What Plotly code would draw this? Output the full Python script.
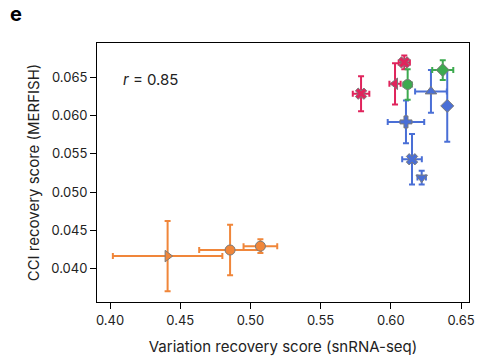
import plotly.graph_objects as go

# Orange group
orange_x = [0.441, 0.4855, 0.5071]
orange_y = [0.0416, 0.0424, 0.0429]
orange_ex = [0.039, 0.022, 0.012]
orange_ey = [0.0046, 0.0033, 0.0009]
orange_sym = ["triangle-right", "circle", "circle"]

# Blue group
blue_x = [0.6286, 0.6402, 0.6108, 0.6151, 0.622]
blue_y = [0.0632, 0.0613, 0.0592, 0.0543, 0.0519]
blue_ex = [0.0113, 0.001, 0.013, 0.007, 0.003]
blue_ey = [0.0028, 0.0047, 0.0028, 0.0033, 0.0009]
blue_sym = ["triangle-up", "diamond", "cross", "x", "triangle-down"]

# Red group
red_x = [0.5788, 0.603, 0.6096]
red_y = [0.0629, 0.0642, 0.0670]
red_ex = [0.0059, 0.004, 0.004]
red_ey = [0.0023, 0.0027, 0.0009]
red_sym = ["x", "triangle-left", "x"]

# Green group
green_x = [0.612, 0.637]
green_y = [0.0641, 0.0660]
green_ex = [0.003, 0.0075]
green_ey = [0.0020, 0.0013]
green_sym = ["circle", "diamond"]

x_ticks = [0.40, 0.45, 0.50, 0.55, 0.60, 0.65]
y_ticks = [0.040, 0.045, 0.050, 0.055, 0.060, 0.065]

groups = [
    (orange_x, orange_y, orange_ex, orange_ey, orange_sym, "#F0863A"),
    (blue_x, blue_y, blue_ex, blue_ey, blue_sym, "#4A6FD6"),
    (red_x, red_y, red_ex, red_ey, red_sym, "#E0245C"),
    (green_x, green_y, green_ex, green_ey, green_sym, "#3DAA4F"),
]

fig = go.Figure()
for gx, gy, gex, gey, gsym, col in groups:
    fig.add_trace(go.Scatter(
        x=gx, y=gy, mode="markers",
        marker=dict(symbol=gsym, size=10, color=col,
                    line=dict(color="#7a7a7a", width=1)),
        error_x=dict(type="data", array=gex, color=col, thickness=2, width=3),
        error_y=dict(type="data", array=gey, color=col, thickness=2, width=3),
        showlegend=False,
    ))

font_fam = "Inter, Roboto, sans-serif"
fig.update_layout(
    width=478, height=359,
    margin=dict(l=97, r=9, t=43, b=57),
    paper_bgcolor="white", plot_bgcolor="white",
    font=dict(family=font_fam, size=13, color="#222"),
    xaxis=dict(range=[0.3907, 0.6557], tickvals=x_ticks,
               ticktext=[f"{v:.2f}" for v in x_ticks], automargin=False,
               showgrid=False, zeroline=False, showline=True, mirror=True,
               linecolor="black", linewidth=1, ticks="outside", ticklen=6,
               tickcolor="black",
               title=dict(text="Variation recovery score (snRNA-seq)",
                          font=dict(size=15), standoff=14)),
    yaxis=dict(range=[0.03558, 0.06955], tickvals=y_ticks,
               ticktext=[f"{v:.3f}" for v in y_ticks], automargin=False,
               showgrid=False, zeroline=False, showline=True, mirror=True,
               linecolor="black", linewidth=1, ticks="outside", ticklen=6,
               tickcolor="black",
               title=dict(text="CCI recovery score (MERFISH)",
                          font=dict(size=15), standoff=8)),
    annotations=[
        dict(text="<i>r</i> = 0.85", x=0.065, y=0.86, xref="paper", yref="paper",
             xanchor="left", yanchor="middle", showarrow=False,
             font=dict(size=15, color="#222")),
        dict(text="<b>e</b>", x=(8 - 97) / 372, y=1 + (43 - 14) / 259,
             xref="paper", yref="paper", xanchor="left", yanchor="middle",
             showarrow=False, font=dict(size=20, color="black")),
    ],
)
fig.write_html("out.html",
               config={"displayModeBar": False},
               post_script="document.body.style.margin='0';"
                           "document.documentElement.style.overflow='hidden';")
